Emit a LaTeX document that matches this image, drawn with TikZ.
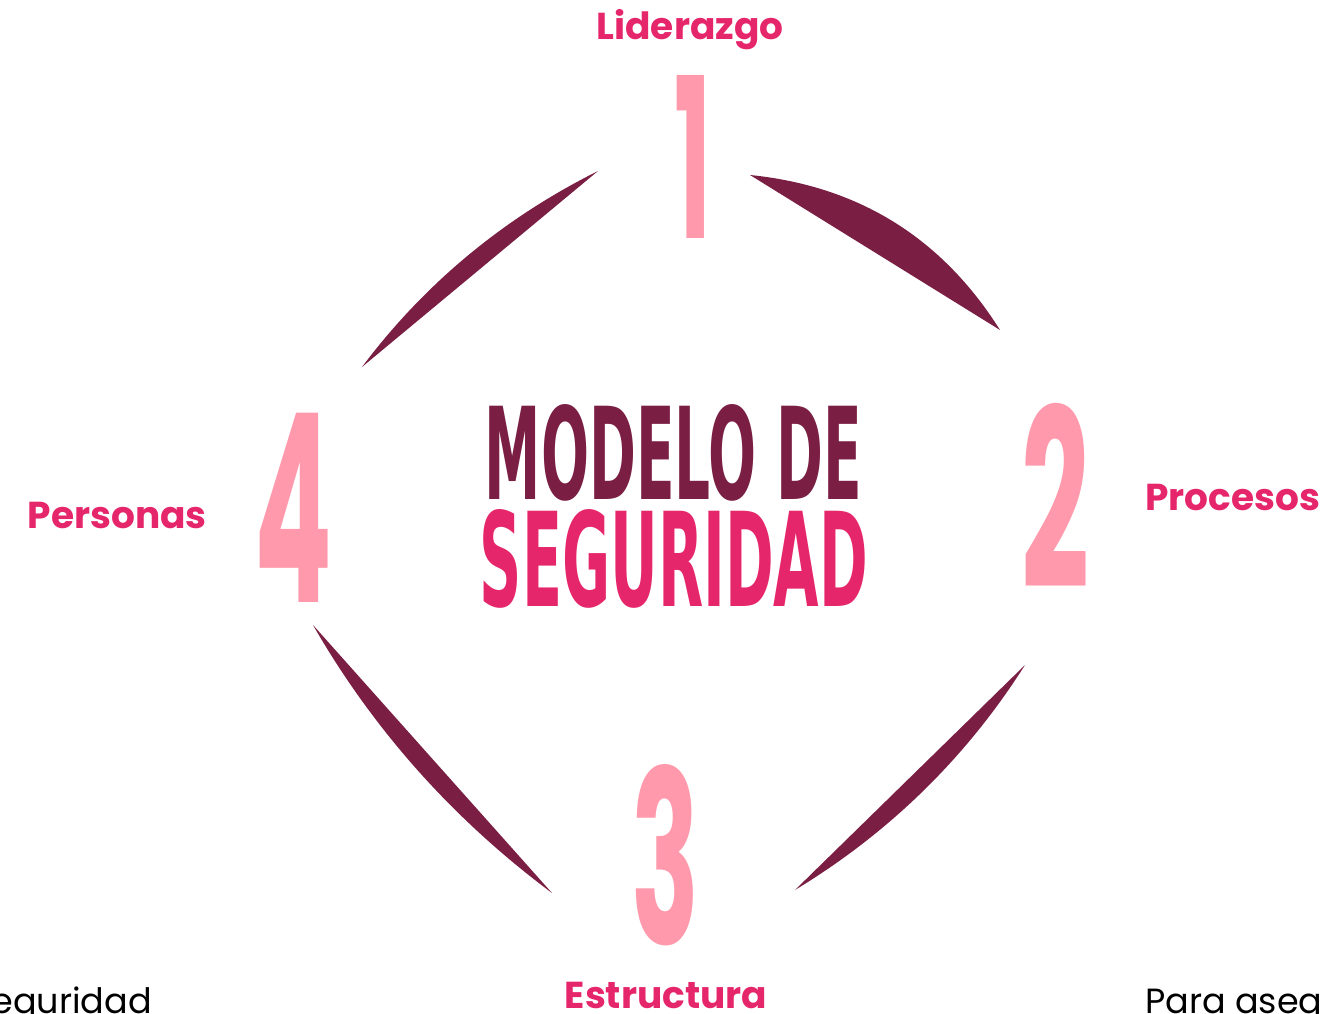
\documentclass[tikz,border=0pt]{standalone}
\usepackage{fontspec}
\setmainfont{Poppins}
\newfontfamily\titlefont{DejaVu Sans Condensed}
\usepackage{xcolor}
\usetikzlibrary{calc, positioning}
\definecolor{wine}{HTML}{7A1F43}
\definecolor{rose}{HTML}{E6266A}
\definecolor{blush}{HTML}{FF99AB}
\tikzset{
    numeral/.style={inner sep=0pt, text=blush, font=\bfseries},
    pillar/.style={inner sep=0pt, text=rose, font=\bfseries\fontsize{37.5}{44}\selectfont},
    cuttext/.style={inner sep=0pt, text=black, font=\fontsize{35}{42}\selectfont},
    arcfill/.style={fill=wine}
}
\newcommand{\stepnumber}[5]{
    \node[numeral] (#1) at (#2) {\resizebox{#3pt}{#4pt}{#5}};
}
\newcommand{\crescent}[5]{
    \coordinate (#1-a) at (#2);
    \coordinate (#1-b) at (#5);
    \fill[arcfill] (#1-a) -- (#1-b) .. controls (#4) and (#3) .. (#1-a) -- cycle;
}

\begin{document}
\begin{tikzpicture}[x=1pt, y=-1pt]
    \useasboundingbox (0, 0) rectangle (1328, 1014);
    \stepnumber{one}{693.5, 156.5}{37}{163}{1}
    \stepnumber{two}{1056, 495.5}{68}{185}{2}
    \stepnumber{three}{666, 855}{68}{180}{3}
    \stepnumber{four}{294, 507.5}{78}{189}{4}
    \crescent{topleft}{598, 171}{504, 218}{425, 283}{362, 367}
    \crescent{topright}{750, 175}{859, 186}{942, 238}{1000, 330}
    \crescent{bottomright}{1025, 665}{966, 758}{889, 833}{795, 890}
    \crescent{bottomleft}{313, 625}{374, 731}{454, 820}{552, 893}
    \node[inner sep=0pt, text=wine] (modelo) at (673.5, 452.5) {\resizebox{377pt}{95pt}{\titlefont\bfseries MODELO DE}};
    \node[inner sep=0pt, text=rose] (seguridad) at (674, 558.5) {\resizebox{388pt}{97pt}{\titlefont\bfseries SEGURIDAD}};
    \node[pillar, anchor=base] (liderazgo) at (690, 40) {Liderazgo};
    \node[pillar, anchor=base west] (procesos) at (1145, 510) {Procesos};
    \node[pillar, anchor=base] (estructura) at (666, 1008) {Estructura};
    \node[pillar, anchor=base east] (personas) at (207, 528) {Personas};
    \node[cuttext, anchor=base east] (lefttext) at (152, 1013) {eguridad};
    \node[cuttext, anchor=base west] (righttext) at (1145, 1013) {Para aseg};
\end{tikzpicture}
\end{document}
